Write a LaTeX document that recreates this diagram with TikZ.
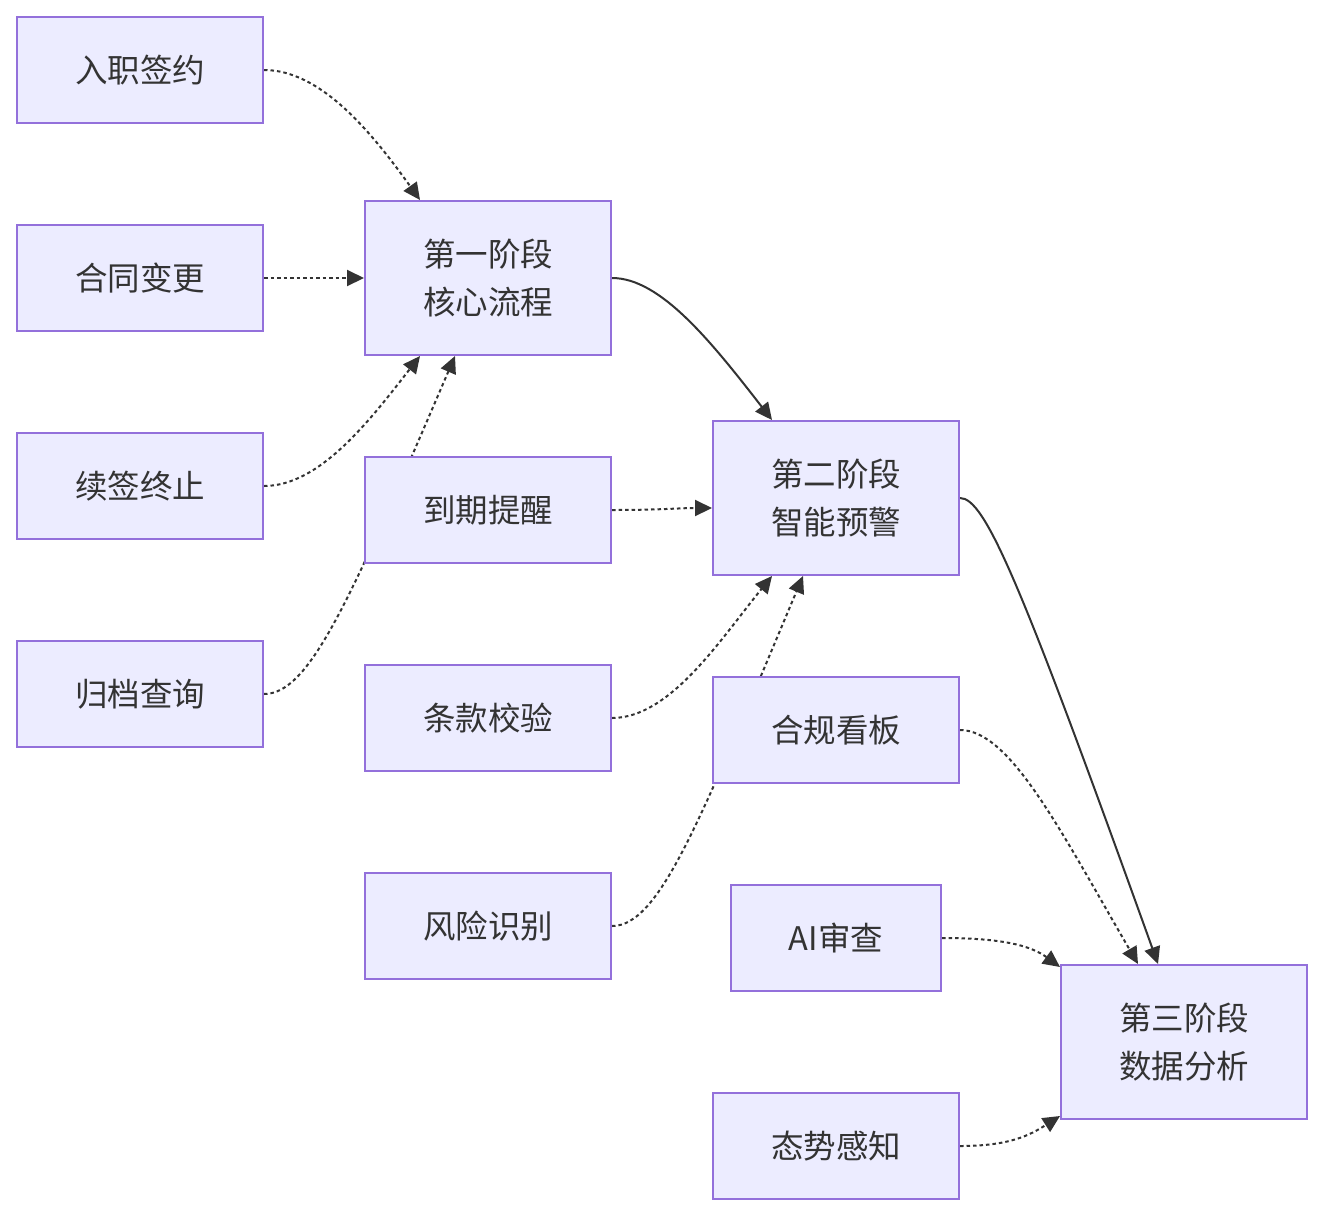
\documentclass[tikz,border=0pt]{standalone}
\usepackage{fontspec}
\setmainfont{Noto Sans CJK SC}
\usetikzlibrary{arrows.meta,backgrounds}
\definecolor{boxfill}{HTML}{ECECFF}
\definecolor{boxline}{HTML}{9370DB}
\definecolor{ink}{HTML}{333333}

\begin{document}
\begin{tikzpicture}[x=1pt, y=-1pt,
	every node/.style={font=\fontsize{32.5}{48}\selectfont, text=ink},
	box/.style={draw=boxline, fill=boxfill, line width=2pt, minimum width=246pt, minimum height=106pt, inner sep=0pt, align=center},
	phase/.style={box, minimum height=154pt},
	link/.style={draw=ink, line width=2pt, -{Triangle[length=17pt, width=16pt]}},
	weak/.style={link, dash pattern=on 3.5pt off 3pt}]
	\useasboundingbox (0,0) rectangle (1324,1216);
	% left column
	\node[box] (onboard) at (140,70) {入职签约};
	\node[box] (change) at (140,278) {合同变更};
	\node[box] (renew) at (140,486) {续签终止};
	\node[box] (archive) at (140,694) {归档查询};
	% second column
	\node[phase] (phaseone) at (488,278) {第一阶段\\核心流程};
	\node[box] (remind) at (488,510) {到期提醒};
	\node[box] (clause) at (488,718) {条款校验};
	\node[box] (risk) at (488,926) {风险识别};
	% third column
	\node[phase] (phasetwo) at (836,498) {第二阶段\\智能预警};
	\node[box] (board) at (836,730) {合规看板};
	\node[box, minimum width=210pt] (aireview) at (836,938) {AI审查};
	\node[box] (situation) at (836,1146) {态势感知};
	% last stage
	\node[phase] (phasethree) at (1184,1042) {第三阶段\\数据分析};

	\begin{scope}[on background layer]
		\draw[weak] (onboard.east) .. controls (320,70) and (370,130) .. ([xshift=56pt]phaseone.north west);
		\draw[weak] (change.east) -- (phaseone.west);
		\draw[weak] (renew.east) .. controls (320,486) and (370,420) .. ([xshift=56pt]phaseone.south west);
		\draw[weak] (archive.east) .. controls (310,694) and (350,600) .. ([xshift=91pt]phaseone.south west);
		\draw[weak] (remind.east) .. controls (660,510) and (680,508) .. ([yshift=-10pt]phasetwo.west);
		\draw[weak] (clause.east) .. controls (670,718) and (720,640) .. ([xshift=60pt]phasetwo.south west);
		\draw[weak] (risk.east) .. controls (660,926) and (700,820) .. ([xshift=91pt]phasetwo.south west);
		\draw[weak] (board.east) .. controls (1010,730) and (1060,830) .. ([xshift=78pt]phasethree.north west);
		\draw[weak] (aireview.east) .. controls (1000,938) and (1030,945) .. ([yshift=-3pt]phasethree.north west);
		\draw[weak] (situation.east) .. controls (1010,1146) and (1030,1135) .. ([yshift=4pt]phasethree.south west);
		\draw[link] (phaseone.east) .. controls (660,278) and (710,340) .. ([xshift=60pt]phasetwo.north west);
		\draw[link] (phasetwo.east) .. controls (985,498) and (1020,580) .. ([xshift=98pt]phasethree.north west);
	\end{scope}
\end{tikzpicture}
\end{document}
